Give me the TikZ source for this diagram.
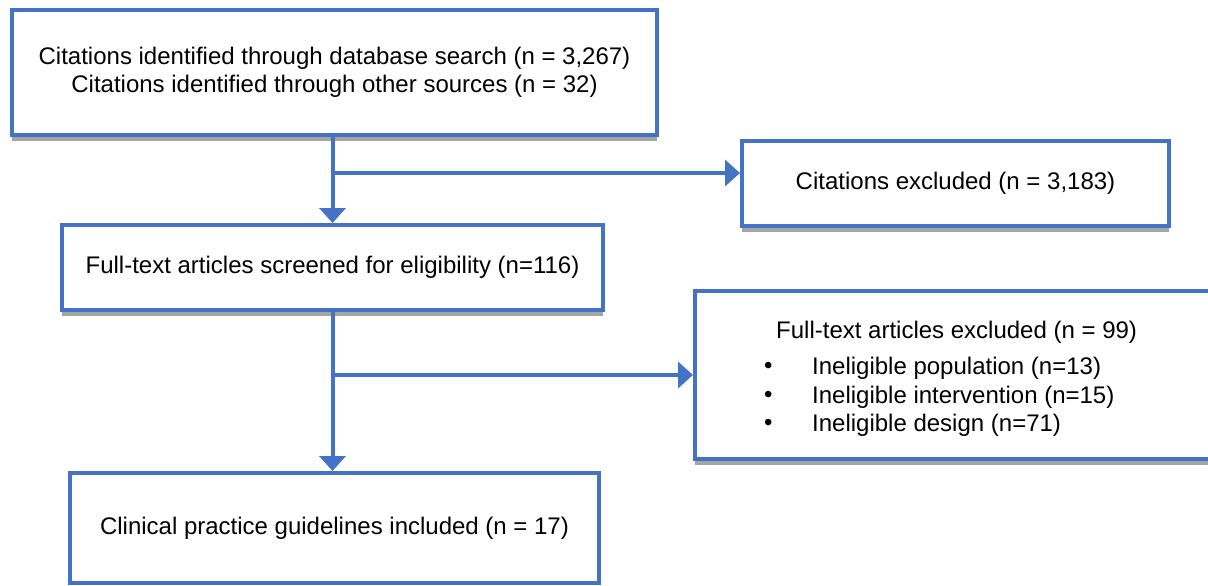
\documentclass[tikz,border=0pt]{standalone}
\usepackage{fontspec}
\setmainfont{Liberation Sans}
\usetikzlibrary{arrows.meta,shadows}
\definecolor{boxblue}{HTML}{4472C4}
\definecolor{shadowgray}{HTML}{A5A5A5}
\tikzset{
  flowbox/.style={draw=boxblue, line width=4pt, fill=white, inner sep=0pt,
    align=center, font=\fontsize{24}{28}\selectfont},
  boxshadow/.style={drop shadow={shadow xshift=0pt, shadow yshift=-6pt, fill=shadowgray, opacity=1}},
  flowline/.style={draw=boxblue, line width=4pt},
  flowarrow/.style={flowline, -{Triangle[length=15pt,width=26pt]}},
  listtext/.style={anchor=west, inner sep=0pt, font=\fontsize{24}{28}\selectfont}
}
\begin{document}
\begin{tikzpicture}[x=1pt,y=-1pt]
\useasboundingbox (0,0) rectangle (1208,586);
\clip (0,0) rectangle (1208,586);
\node[flowbox, boxshadow, minimum width=645pt, minimum height=125pt] (b1) at (334.5,72.5)
  {\raisebox{2pt}{\begin{tabular}{@{}c@{}}Citations identified through database search (n = 3,267)\\Citations identified through other sources (n = 32)\end{tabular}}};
\node[flowbox, boxshadow, minimum width=427pt, minimum height=85pt] (b2) at (955.5,183.5)
  {Citations excluded (n = 3,183)};
\node[flowbox, boxshadow, minimum width=541pt, minimum height=85pt] (b3) at (332.5,267.5)
  {Full-text articles screened for eligibility (n=116)};
\node[flowbox, boxshadow, minimum width=535pt, minimum height=168pt] (b4) at (962.5,375) {};
\node[flowbox, minimum width=529pt, minimum height=110pt] (b5) at (334.5,528)
  {Clinical practice guidelines included (n = 17)};
% text of the excluded full-text box
\node[listtext] (t0) at (776,332) {Full-text articles excluded (n = 99)};
\node[listtext] (d1) at (764,368) {•};
\node[listtext] (d2) at (764,397) {•};
\node[listtext] (d3) at (764,425) {•};
\node[listtext] (t1) at (812,368) {Ineligible population (n=13)};
\node[listtext] (t2) at (812,397) {Ineligible intervention (n=15)};
\node[listtext] (t3) at (812,425) {Ineligible design (n=71)};
% connectors
\coordinate (j1) at (332.5,173);
\coordinate (j2) at (332.5,375);
\draw[flowarrow] (b3.north |- b1.south) -- (b3.north);
\draw[flowarrow] (j1) -- (j1 -| b2.west);
\draw[flowarrow] (b3.south) -- (b3.south |- b5.north);
\draw[flowarrow] (j2) -- (j2 -| b4.west);
\end{tikzpicture}
\end{document}
